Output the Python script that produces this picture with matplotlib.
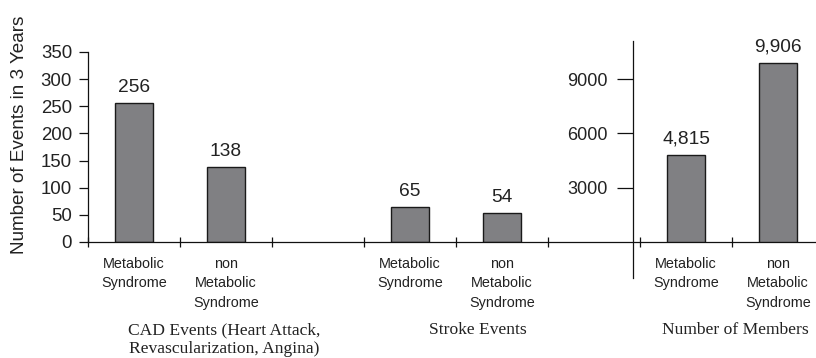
import matplotlib
matplotlib.use("Agg")
import matplotlib.pyplot as plt
from matplotlib.transforms import blended_transform_factory

# Data
event_groups = ["CAD Events (Heart Attack,\nRevascularization, Angina)", "Stroke Events"]
member_group = "Number of Members"
categories = ["Metabolic\nSyndrome", "non\nMetabolic\nSyndrome"]
cad_events = [256, 138]
stroke_events = [65, 54]
members = [4815, 9906]
member_labels = ["4,815", "9,906"]
left_ticks = [0, 50, 100, 150, 200, 250, 300, 350]
right_ticks = [3000, 6000, 9000]

SANS = ["Liberation Sans", "DejaVu Sans"]
SERIF = ["Liberation Serif", "DejaVu Serif"]
BAR_COLOR = "#808083"
EDGE = "#1a1a1a"
TEXT = "#222222"

W, H = 816, 358
fig = plt.figure(figsize=(W / 100, H / 100), dpi=100)

# main axes: left spine at x=88px, baseline at y=242px, top at y=52px
left_px, base_px, top_px = 88, 242, 52
ax = fig.add_axes([left_px / W, (H - base_px) / H, 1 - left_px / W, (base_px - top_px) / H])

slot_px = 92.0
ax.set_xlim(0, (W - left_px) / slot_px)
ax.set_ylim(0, 350)

bar_w = 0.41
cad_x = [0.5, 1.5]
stroke_x = [3.5, 4.5]
member_x = [6.5, 7.5]

b1 = ax.bar(cad_x, cad_events, width=bar_w, color=BAR_COLOR, edgecolor=EDGE, linewidth=1.0)
b2 = ax.bar(stroke_x, stroke_events, width=bar_w, color=BAR_COLOR, edgecolor=EDGE, linewidth=1.0)
for bars in (b1, b2):
    ax.bar_label(bars, padding=5, fontsize=13.8, family=SANS, color=TEXT)

for s in ("top", "right"):
    ax.spines[s].set_visible(False)
for s in ("left", "bottom"):
    ax.spines[s].set_linewidth(0.9)
    ax.spines[s].set_color("#111111")

ax.set_yticks(left_ticks)
ax.tick_params(axis="y", direction="out", length=6.5, width=0.9, pad=5,
               labelsize=13.4, colors="#111111", labelcolor=TEXT)
for t in ax.get_yticklabels():
    t.set_family(SANS)

# category boundary ticks along the baseline
ax.set_xticks(range(0, 8))
ax.set_xticklabels([])
ax.tick_params(axis="x", which="major", direction="inout", length=6.5, width=0.9, colors="#111111")

# category names under each bar
ax.set_xticks(cad_x + stroke_x + member_x, minor=True)
ax.set_xticklabels(categories * 3, minor=True)
ax.tick_params(axis="x", which="minor", length=0, pad=10.5, labelsize=10.4, labelcolor=TEXT)
for t in ax.get_xticklabels(minor=True):
    t.set_family(SANS)
    t.set_linespacing(1.52)
    t.set_verticalalignment("top")

# group titles
trans = blended_transform_factory(ax.transData, fig.transFigure)
title_y = 1 - 322 / H
ax.text(1.48, title_y, event_groups[0], transform=trans, ha="center", va="top",
        family=SERIF, fontsize=12.6, linespacing=1.22, color=TEXT)
ax.text(4.24, title_y, event_groups[1], transform=trans, ha="center", va="top",
        family=SERIF, fontsize=12.6, color=TEXT)
ax.text(7.04, title_y, member_group, transform=trans, ha="center", va="top",
        family=SERIF, fontsize=12.6, color=TEXT)

# secondary axis for membership counts
ax2 = ax.twinx()
px_per_member = 0.0181
ax2.set_ylim(0, (base_px - top_px) / px_per_member)
b3 = ax2.bar(member_x, members, width=bar_w, color=BAR_COLOR, edgecolor=EDGE, linewidth=1.0)
ax2.bar_label(b3, labels=member_labels, padding=5, fontsize=13.8, family=SANS, color=TEXT)
for s in ("top", "right", "bottom"):
    ax2.spines[s].set_visible(False)
spine_x = (633 - left_px) / slot_px
ax2.spines["left"].set_visible(True)
ax2.spines["left"].set_position(("data", spine_x))
ax2.spines["left"].set_bounds(-(278 - base_px) / px_per_member, (base_px - 41) / px_per_member)
ax2.spines["left"].set_linewidth(0.9)
ax2.spines["left"].set_color("#111111")
ax2.yaxis.tick_left()
ax2.set_yticks(right_ticks)
ax2.tick_params(axis="y", direction="out", length=11.5, width=0.9, pad=7,
                labelsize=13.0, colors="#111111", labelcolor=TEXT)
for t in ax2.get_yticklabels():
    t.set_family(SANS)

fig.text(20 / W, 1 - 135 / H, "Number of Events in 3 Years", rotation=90,
         ha="center", va="center", family=SANS, fontsize=13.6, color=TEXT)

fig.savefig("out.png", dpi=100)
